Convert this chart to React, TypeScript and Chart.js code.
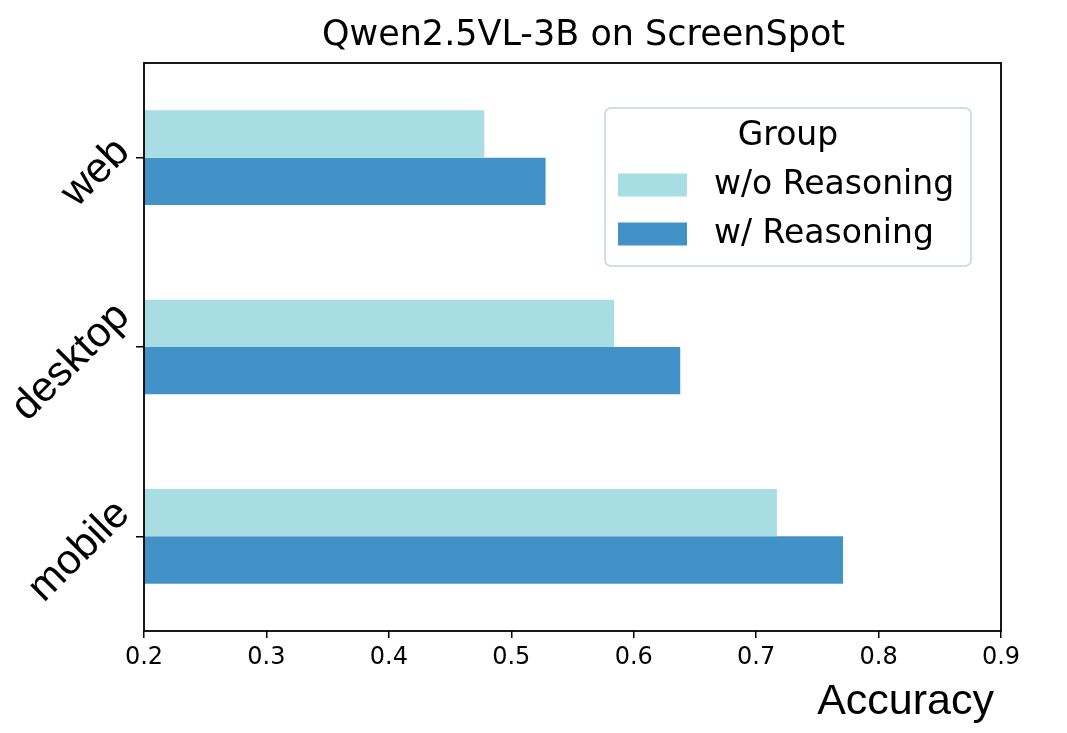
import React, { useEffect, useRef } from 'react';
import { Chart, registerables } from 'chart.js';

Chart.register(...registerables);

// ---- data ----
const categories = ['web', 'desktop', 'mobile'];
const seriesNames = ['w/o Reasoning', 'w/ Reasoning'];
const withoutReasoning = [0.478, 0.584, 0.717];
const withReasoning = [0.528, 0.638, 0.771];
const xMin = 0.2;
const xMax = 0.9;
const xStep = 0.1;
const chartTitle = 'Qwen2.5VL-3B on ScreenSpot';
const xAxisTitle = 'Accuracy';
const legendTitle = 'Group';

const seriesColors = ['#a8dee3', '#4292c8'];

const frameBox = {
  id: 'frameBox',
  afterDatasetsDraw(chart: any) {
    const { ctx, chartArea } = chart;
    ctx.save();
    ctx.strokeStyle = '#000';
    ctx.lineWidth = 1.8;
    ctx.strokeRect(chartArea.left, chartArea.top, chartArea.right - chartArea.left, chartArea.bottom - chartArea.top);
    ctx.restore();
  },
};

const texts = {
  id: 'texts',
  afterDraw(chart: any) {
    const { ctx, chartArea } = chart;
    ctx.save();
    ctx.fillStyle = '#000';
    // title
    ctx.font = '35px "DejaVu Sans", sans-serif';
    ctx.textAlign = 'center';
    ctx.textBaseline = 'middle';
    ctx.fillText(chartTitle, (chartArea.left + chartArea.right) / 2 + 11, chartArea.top - 27);
    // x-axis title
    ctx.font = '43px "Liberation Sans", Arial, sans-serif';
    ctx.textAlign = 'right';
    ctx.textBaseline = 'alphabetic';
    ctx.fillText(xAxisTitle, chartArea.right - 7, chartArea.bottom + 83);
    ctx.restore();
  },
};

const rotatedYLabels = {
  id: 'rotatedYLabels',
  afterDraw(chart: any) {
    const { ctx } = chart;
    const ys = chart.scales.y;
    const size = 42;
    ctx.save();
    ctx.font = `${size}px "Liberation Sans", Arial, sans-serif`;
    ctx.fillStyle = '#000';
    ctx.textAlign = 'center';
    ctx.textBaseline = 'middle';
    ys.ticks.forEach((t: any, i: number) => {
      const label = String(ys.getLabelForValue(t.value));
      const y = ys.getPixelForTick(i);
      const L = ctx.measureText(label).width;
      const W = Math.SQRT1_2 * (L + size);
      const cx = ys.right - 6 - W / 2;
      const cy = y + 15;
      ctx.save();
      ctx.translate(cx, cy);
      ctx.rotate(-Math.PI / 4);
      ctx.fillText(label, 0, 0);
      ctx.restore();
    });
    ctx.restore();
  },
};

const boxLegend = {
  id: 'boxLegend',
  afterDraw(chart: any) {
    const { ctx } = chart;
    const x0 = 605, y0 = 108, w = 366, h = 158, r = 6;
    ctx.save();
    ctx.beginPath();
    ctx.moveTo(x0 + r, y0);
    ctx.lineTo(x0 + w - r, y0);
    ctx.arcTo(x0 + w, y0, x0 + w, y0 + r, r);
    ctx.lineTo(x0 + w, y0 + h - r);
    ctx.arcTo(x0 + w, y0 + h, x0 + w - r, y0 + h, r);
    ctx.lineTo(x0 + r, y0 + h);
    ctx.arcTo(x0, y0 + h, x0, y0 + h - r, r);
    ctx.lineTo(x0, y0 + r);
    ctx.arcTo(x0, y0, x0 + r, y0, r);
    ctx.closePath();
    ctx.fillStyle = 'rgba(255,255,255,0.85)';
    ctx.fill();
    ctx.strokeStyle = '#d5dfe0';
    ctx.lineWidth = 2;
    ctx.stroke();

    ctx.fillStyle = '#000';
    ctx.font = '33px "DejaVu Sans", sans-serif';
    ctx.textBaseline = 'middle';
    ctx.textAlign = 'center';
    ctx.fillText(legendTitle, x0 + 183, y0 + 28);

    ctx.textAlign = 'left';
    chart.data.datasets.forEach((ds: any, i: number) => {
      const cy = y0 + 77 + i * 49;
      ctx.fillStyle = ds.backgroundColor;
      ctx.fillRect(x0 + 13, cy - 11.5, 69, 23);
      ctx.fillStyle = '#000';
      ctx.fillText(ds.label, x0 + 109, cy);
    });
    ctx.restore();
  },
};

export default function App() {
  const canvasRef = useRef<HTMLCanvasElement | null>(null);

  useEffect(() => {
    document.body.style.margin = '0';
    const canvas = canvasRef.current;
    if (!canvas) return;
    const chart = new Chart(canvas, {
      type: 'bar',
      data: {
        labels: categories,
        datasets: [
          {
            label: seriesNames[0],
            data: withoutReasoning,
            backgroundColor: seriesColors[0],
            categoryPercentage: 0.5,
            barPercentage: 1.0,
          },
          {
            label: seriesNames[1],
            data: withReasoning,
            backgroundColor: seriesColors[1],
            categoryPercentage: 0.5,
            barPercentage: 1.0,
          },
        ],
      },
      options: {
        indexAxis: 'y',
        responsive: false,
        animation: false,
        devicePixelRatio: 1,
        layout: { padding: { left: 0, right: 66, top: 63, bottom: 0 } },
        plugins: {
          legend: { display: false },
          tooltip: { enabled: false },
          title: { display: false },
        },
        scales: {
          x: {
            type: 'linear',
            min: xMin,
            max: xMax,
            afterFit: (s: any) => {
              s.height = 102;
            },
            ticks: {
              stepSize: xStep,
              color: '#000',
              padding: 5,
              maxRotation: 0,
              font: { family: '"DejaVu Sans", sans-serif', size: 24 },
              callback: (v: any) => Number(v).toFixed(1),
            },
            grid: {
              display: true,
              drawOnChartArea: false,
              drawTicks: true,
              tickLength: 7,
              color: '#000',
              lineWidth: 1.5,
            },
            border: { display: false },
          },
          y: {
            type: 'category',
            afterFit: (s: any) => {
              s.width = 144;
            },
            ticks: { display: false },
            grid: {
              display: true,
              offset: false,
              drawOnChartArea: false,
              drawTicks: true,
              tickLength: 8,
              color: '#000',
              lineWidth: 1.5,
            },
            border: { display: false },
          },
        },
      },
      plugins: [frameBox, rotatedYLabels, texts, boxLegend],
    } as any);
    return () => chart.destroy();
  }, []);

  return (
    <div style={{ width: 1067, height: 733, background: '#fff' }}>
      <canvas ref={canvasRef} width={1067} height={733} />
    </div>
  );
}
